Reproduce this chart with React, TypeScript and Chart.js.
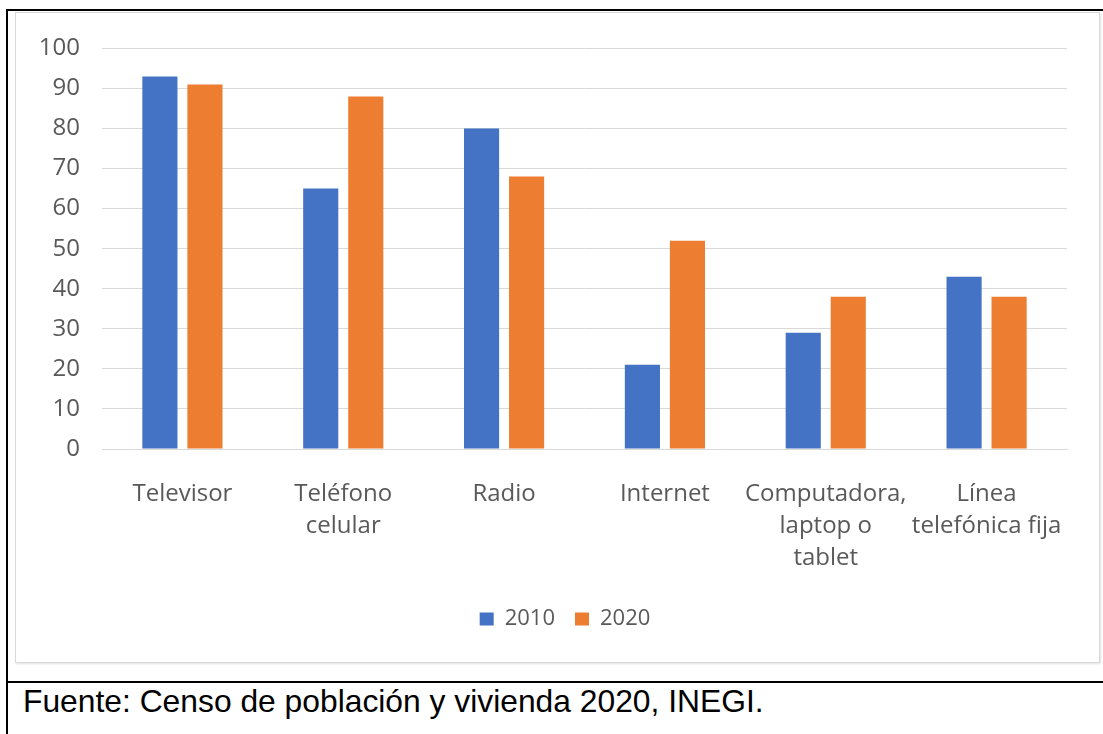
import React, { useEffect, useRef } from "react";
import { Chart, registerables } from "chart.js";

Chart.register(...registerables);

const categories: string[][] = [
  ["Televisor"],
  ["Teléfono", "celular"],
  ["Radio"],
  ["Internet"],
  ["Computadora,", "laptop o", "tablet"],
  ["Línea", "telefónica fija"],
];
const seriesNames = ["2010", "2020"];
const values2010 = [93, 65, 80, 21, 29, 43];
const values2020 = [91, 88, 68, 52, 38, 38];
const yMin = 0;
const yMax = 100;
const yStep = 10;
const sourceText = "Fuente: Censo de población y vivienda 2020, INEGI.";

const BLUE = "#4472C4";
const ORANGE = "#ED7D31";
const TEXT = "#595959";
const GRID = "#d9d9d9";
const FONT = "'Open Sans', 'Noto Sans', sans-serif";

function BarChart() {
  const ref = useRef<HTMLCanvasElement | null>(null);
  useEffect(() => {
    if (!ref.current) return;
    const chart = new Chart(ref.current, {
      type: "bar",
      data: {
        labels: categories,
        datasets: [
          {
            label: seriesNames[0],
            data: values2010,
            backgroundColor: BLUE,
            borderWidth: 0,
            categoryPercentage: 0.56,
            barPercentage: 0.78,
          },
          {
            label: seriesNames[1],
            data: values2020,
            backgroundColor: ORANGE,
            borderWidth: 0,
            categoryPercentage: 0.56,
            barPercentage: 0.78,
          },
        ],
      },
      options: {
        animation: false,
        responsive: false,
        maintainAspectRatio: false,
        devicePixelRatio: 1,
        layout: { padding: { left: 15, right: 0, top: 33, bottom: 23 } },
        plugins: {
          tooltip: { enabled: false },
          title: { display: false },
          legend: {
            display: true,
            position: "bottom",
            labels: {
              color: TEXT,
              font: { family: FONT, size: 22 },
              boxWidth: 14,
              boxHeight: 13,
              padding: 20,
            },
          },
        },
        scales: {
          x: {
            grid: { display: false, drawTicks: false },
            border: { display: true, color: GRID, width: 1 },
            ticks: {
              color: TEXT,
              font: { family: FONT, size: 24, lineHeight: 1.33 },
              padding: 29,
              maxRotation: 0,
              autoSkip: false,
            },
            afterFit: (scale: any) => {
              scale.height = 139;
            },
          },
          y: {
            min: yMin,
            max: yMax,
            grid: { color: GRID, lineWidth: 1, drawTicks: false },
            border: { display: false },
            ticks: {
              stepSize: yStep,
              color: TEXT,
              font: { family: FONT, size: 24 },
              padding: 22,
            },
            afterFit: (scale: any) => {
              scale.width = 72;
            },
          },
          yRight: {
            position: "right",
            display: true,
            min: yMin,
            max: yMax,
            grid: { display: false, drawTicks: false },
            border: { display: false },
            ticks: { display: false },
            afterFit: (scale: any) => {
              scale.width = 33;
            },
          },
        },
      },
    });
    return () => chart.destroy();
  }, []);
  return (
    <canvas
      ref={ref}
      width={1085}
      height={651}
      style={{ position: "absolute", left: 15, top: 12, width: 1085, height: 651 }}
    />
  );
}

export default function App() {
  return (
    <div
      style={{
        position: "absolute",
        left: 0,
        top: 0,
        width: 1103,
        height: 734,
        overflow: "hidden",
        background: "#fff",
      }}
    >
      <div
        style={{
          position: "absolute",
          left: 6,
          top: 9,
          width: 1200,
          height: 900,
          borderLeft: "2px solid #000",
          borderTop: "2px solid #000",
        }}
      />
      <div
        style={{
          position: "absolute",
          left: 15,
          top: 12,
          width: 1083,
          height: 649,
          border: "1px solid #d9d9d9",
          boxShadow: "1px 1px 2px rgba(0,0,0,0.12)",
        }}
      />
      <BarChart />
      <div
        style={{
          position: "absolute",
          left: 6,
          top: 681,
          width: 1200,
          height: 2,
          background: "#000",
        }}
      />
      <div
        style={{
          position: "absolute",
          left: 23,
          top: 686,
          fontFamily: "'Liberation Sans', Arial, sans-serif",
          fontSize: 31.8,
          lineHeight: 1,
          color: "#000",
          whiteSpace: "nowrap",
        }}
      >
        {sourceText}
      </div>
    </div>
  );
}
